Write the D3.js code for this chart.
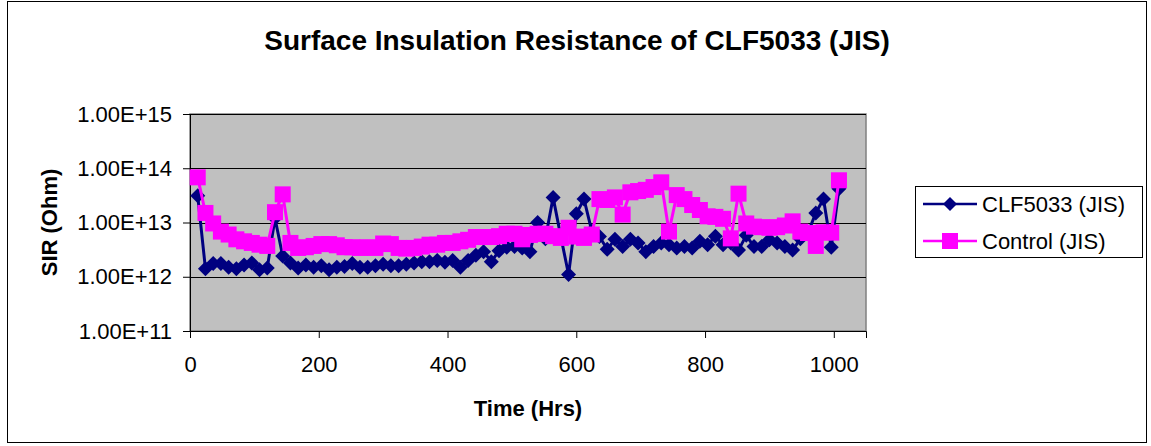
<!DOCTYPE html>
<html>
<head>
<meta charset="utf-8">
<script src="https://cdn.jsdelivr.net/npm/d3@7"></script>
<style>
  html, body { margin: 0; padding: 0; background: #fff; }
  svg { display: block; }
  text { font-family: "Liberation Sans", Arial, sans-serif; fill: #000; }
</style>
</head>
<body>
<svg id="chart" width="1151" height="446"></svg>
<script>
const title = "Surface Insulation Resistance of CLF5033 (JIS)";
const xLabel = "Time (Hrs)";
const yLabel = "SIR (Ohm)";
const seriesNames = ["CLF5033 (JIS)", "Control (JIS)"];
const xTicks = [0, 200, 400, 600, 800, 1000];
const yTicks = [1e11, 1e12, 1e13, 1e14, 1e15];

const timeHrs = [12, 24, 36, 48, 60, 72, 84, 96, 108, 120, 132, 144, 156, 168, 180, 192, 204, 216, 228, 240,
  252, 264, 276, 288, 300, 312, 324, 336, 348, 360, 372, 384, 396, 408, 420, 432, 444, 456, 468, 480,
  492, 504, 516, 528, 540, 552, 564, 576, 588, 600, 612, 624, 636, 648, 660, 672, 684, 696, 708, 720,
  732, 744, 756, 768, 780, 792, 804, 816, 828, 840, 852, 864, 876, 888, 900, 912, 924, 936, 948, 960,
  972, 984, 996, 1008];

const clf5033 = [3.1e13, 1.4e12, 1.75e12, 1.75e12, 1.5e12, 1.4e12, 1.65e12, 1.8e12, 1.35e12, 1.45e12,
  1.2e13, 2.4e12, 1.8e12, 1.45e12, 1.65e12, 1.5e12, 1.6e12, 1.35e12, 1.5e12, 1.55e12,
  1.75e12, 1.5e12, 1.5e12, 1.6e12, 1.7e12, 1.6e12, 1.6e12, 1.7e12, 1.8e12, 1.9e12,
  1.9e12, 2.0e12, 1.85e12, 2.0e12, 1.5e12, 2.0e12, 2.5e12, 2.9e12, 1.9e12, 3.0e12,
  3.5e12, 3.6e12, 3.4e12, 2.9e12, 1.0e13, 5.0e12, 2.9e13, 5.5e12, 1.1e12, 1.45e13,
  2.7e13, 7.0e12, 5.5e12, 3.2e12, 4.9e12, 3.6e12, 4.9e12, 4.2e12, 2.9e12, 3.6e12,
  4.2e12, 3.9e12, 3.4e12, 3.6e12, 3.4e12, 4.5e12, 3.9e12, 5.6e12, 3.9e12, 4.2e12,
  3.1e12, 5.8e12, 3.6e12, 3.6e12, 4.8e12, 4.2e12, 3.6e12, 3.1e12, 5.0e12, 6.5e12,
  1.5e13, 2.7e13, 3.5e12, 4.2e13];

const control = [6.8e13, 1.5e13, 9.6e12, 6.8e12, 6.0e12, 4.9e12, 4.5e12, 4.2e12, 3.9e12, 3.7e12,
  1.55e13, 3.3e13, 4.2e12, 3.4e12, 3.5e12, 3.7e12, 4.0e12, 4.0e12, 3.8e12, 3.5e12,
  3.5e12, 3.4e12, 3.5e12, 3.4e12, 4.1e12, 4.0e12, 3.4e12, 3.3e12, 3.4e12, 3.6e12,
  3.9e12, 3.9e12, 4.2e12, 4.2e12, 4.5e12, 4.8e12, 5.4e12, 5.4e12, 5.4e12, 5.6e12,
  6.2e12, 6.2e12, 4.9e12, 5.9e12, 6.2e12, 6.2e12, 5.6e12, 5.2e12, 8.0e12, 5.5e12,
  5.2e12, 6.0e12, 2.7e13, 2.6e13, 2.9e13, 1.4e13, 3.6e13, 3.8e13, 4.0e13, 4.5e13,
  5.5e13, 6.8e12, 3.2e13, 2.7e13, 2.1e13, 1.7e13, 1.3e13, 1.27e13, 1.17e13, 5.1e12,
  3.4e13, 9.6e12, 8.4e12, 8.2e12, 8.0e12, 8.2e12, 8.8e12, 1.05e13, 6.8e12, 6.4e12,
  3.7e12, 6.6e12, 6.5e12, 6.0e13];

const svg = d3.select("#chart");
const W = 1151, H = 446;
const plot = { left: 190, top: 114, right: 866, bottom: 331 };

// outer chart border
svg.append("rect").attr("x", 7.5).attr("y", 1.5).attr("width", 1139).attr("height", 441)
  .attr("fill", "#fff").attr("stroke", "#000").attr("stroke-width", 1);

const x = d3.scaleLinear().domain([0, 1050]).range([plot.left, plot.right]);
const y = d3.scaleLog().domain([1e11, 1e15]).range([plot.bottom, plot.top]);

// plot area
svg.append("rect").attr("x", plot.left).attr("y", plot.top)
  .attr("width", plot.right - plot.left).attr("height", plot.bottom - plot.top)
  .attr("fill", "#C0C0C0").attr("stroke", "#808080").attr("stroke-width", 1.5);

// gridlines
svg.append("g").selectAll("line").data(yTicks.slice(1)).join("line")
  .attr("x1", plot.left).attr("x2", plot.right)
  .attr("y1", d => Math.round(y(d)) + 0.5).attr("y2", d => Math.round(y(d)) + 0.5)
  .attr("stroke", "#000").attr("stroke-width", 1);

// axes
const fmt = d => d.toExponential(2).toUpperCase();
const yAxis = svg.append("g").attr("transform", `translate(${plot.left},0)`)
  .call(d3.axisLeft(y).tickValues(yTicks).tickFormat(fmt).tickSize(7).tickPadding(11));
const xAxis = svg.append("g").attr("transform", `translate(0,${plot.bottom})`)
  .call(d3.axisBottom(x).tickValues(xTicks).tickFormat(d3.format("d")).tickSize(7).tickPadding(18));
[yAxis, xAxis].forEach(g => {
  g.select(".domain").attr("stroke", "#000").attr("stroke-width", 1);
  g.selectAll(".tick line").attr("stroke", "#000");
  g.selectAll("text").attr("font-size", 22).attr("font-family", '"Liberation Sans", Arial, sans-serif');
});

// series
const dataA = timeHrs.map((t, i) => ({ t, v: clf5033[i] }));
const dataB = timeHrs.map((t, i) => ({ t, v: control[i] }));
const line = d3.line().x(d => x(d.t)).y(d => y(d.v));

const diamond = (cx, cy, r) => `M${cx},${cy - r}L${cx + r},${cy}L${cx},${cy + r}L${cx - r},${cy}Z`;

svg.append("path").datum(dataA).attr("d", line).attr("fill", "none")
  .attr("stroke", "#000080").attr("stroke-width", 3).attr("stroke-linejoin", "round");
svg.append("g").selectAll("path").data(dataA).join("path")
  .attr("d", d => diamond(x(d.t), y(d.v), 7.5)).attr("fill", "#000080");

svg.append("path").datum(dataB).attr("d", line).attr("fill", "none")
  .attr("stroke", "#FF00FF").attr("stroke-width", 3).attr("stroke-linejoin", "round");
svg.append("g").selectAll("rect").data(dataB).join("rect")
  .attr("x", d => x(d.t) - 8).attr("y", d => y(d.v) - 8).attr("width", 16).attr("height", 16)
  .attr("fill", "#FF00FF");

// title & axis labels
svg.append("text").attr("x", 577).attr("y", 50).attr("text-anchor", "middle")
  .attr("font-size", 28).attr("font-weight", "bold").text(title);
svg.append("text").attr("x", (plot.left + plot.right) / 2).attr("y", 416).attr("text-anchor", "middle")
  .attr("font-size", 22).attr("font-weight", "bold").text(xLabel);
svg.append("text").attr("transform", `translate(57,${(plot.top + plot.bottom) / 2}) rotate(-90)`)
  .attr("text-anchor", "middle").attr("font-size", 22).attr("font-weight", "bold").text(yLabel);

// legend
const lg = svg.append("g");
lg.append("rect").attr("x", 915.5).attr("y", 186.5).attr("width", 227).attr("height", 71)
  .attr("fill", "#fff").attr("stroke", "#000").attr("stroke-width", 1);
const rows = [204, 241];
const colors = ["#000080", "#FF00FF"];
rows.forEach((ry, i) => {
  lg.append("line").attr("x1", 923).attr("x2", 977).attr("y1", ry).attr("y2", ry)
    .attr("stroke", colors[i]).attr("stroke-width", 2.5);
  if (i === 0) lg.append("path").attr("d", diamond(950, ry, 7)).attr("fill", colors[i]);
  else lg.append("rect").attr("x", 942).attr("y", ry - 8).attr("width", 16).attr("height", 16).attr("fill", colors[i]);
  lg.append("text").attr("x", 982).attr("y", ry + 8).attr("font-size", 22).text(seriesNames[i]);
});
</script>
</body>
</html>
